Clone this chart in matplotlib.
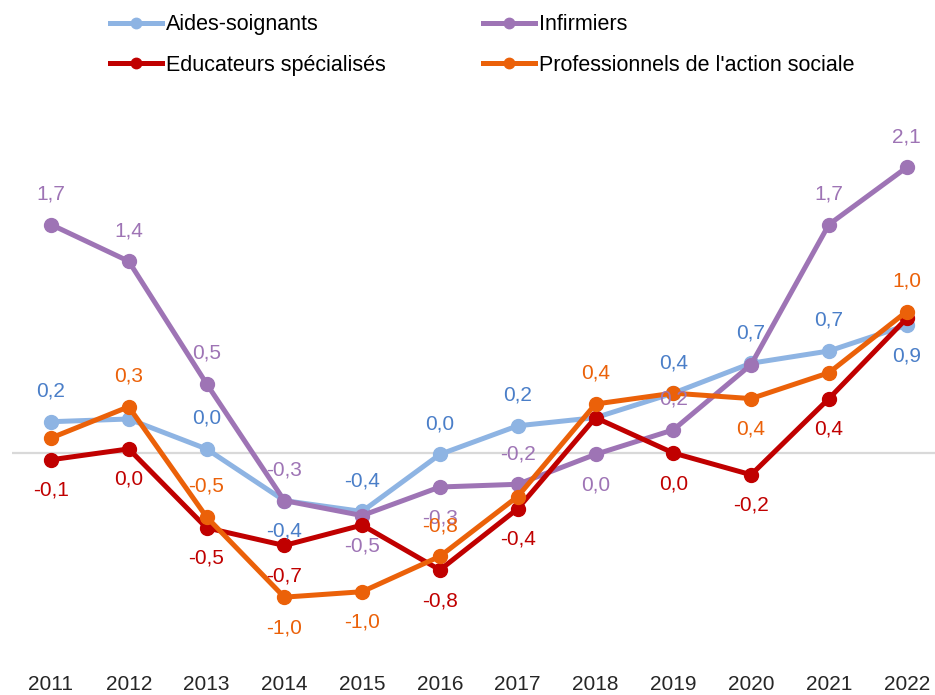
import matplotlib
matplotlib.use('Agg')
import matplotlib.pyplot as plt

years = ['2011', '2012', '2013', '2014', '2015', '2016',
         '2017', '2018', '2019', '2020', '2021', '2022']

aides = [0.23, 0.25, 0.03, -0.35, -0.43, -0.01, 0.20, 0.26, 0.44, 0.66, 0.75, 0.94]
infirmiers = [1.68, 1.41, 0.51, -0.35, -0.46, -0.25, -0.23, -0.01, 0.17, 0.65, 1.68, 2.10]
educateurs = [-0.05, 0.03, -0.55, -0.68, -0.53, -0.86, -0.41, 0.26, 0.00, -0.16, 0.40, 0.99]
pro_social = [0.11, 0.34, -0.47, -1.06, -1.02, -0.76, -0.32, 0.36, 0.44, 0.40, 0.59, 1.04]

# data labels as printed on the chart (None = no label)
aides_lbl = ['0,2', None, '0,0', '-0,4', '-0,4', '0,0', '0,2', None, '0,4', '0,7', '0,7', '0,9']
infirmiers_lbl = ['1,7', '1,4', '0,5', '-0,3', '-0,5', '-0,3', '-0,2', '0,0', '0,2', None, '1,7', '2,1']
educateurs_lbl = ['-0,1', '0,0', '-0,5', '-0,7', None, '-0,8', '-0,4', None, '0,0', '-0,2', '0,4', None]
pro_social_lbl = [None, '0,3', '-0,5', '-1,0', '-1,0', '-0,8', None, '0,4', None, '0,4', None, '1,0']

# label side: 1 above, -1 below
aides_side = [1, 0, 1, -1, 1, 1, 1, 0, 1, 1, 1, -1]
infirmiers_side = [1, 1, 1, 1, -1, -1, 1, -1, 1, 0, 1, 1]
educateurs_side = [-1] * 12
pro_social_side = [0, 1, 1, -1, -1, 1, 0, 1, 0, -1, 0, 1]

plt.rcParams['font.family'] = ['Liberation Sans', 'DejaVu Sans']

fig = plt.figure(figsize=(9.35, 6.95), dpi=100)
W, H = 935, 695
ax = fig.add_axes([12 / W, 1 - 660 / H, 923 / W, 560 / H])

x = list(range(len(years)))
ax.axhline(0, color='#d9d9d9', lw=1.6, zorder=1)

series = [
    ('Aides-soignants', aides, aides_lbl, aides_side, '#8eb4e3', '#4a7ec8'),
    ('Infirmiers', infirmiers, infirmiers_lbl, infirmiers_side, '#9e74b5', '#9e74b5'),
    ('Educateurs spécialisés', educateurs, educateurs_lbl, educateurs_side, '#c00000', '#c00000'),
    ("Professionnels de l'action sociale", pro_social, pro_social_lbl, pro_social_side, '#eb6109', '#eb6109'),
]

handles = []
for i, (name, vals, lbls, sides, col, tcol) in enumerate(series):
    h, = ax.plot(x, vals, color=col, lw=3.6, marker='o', ms=10, label=name, zorder=3 + i)
    handles.append(h)
    for xi, v, t, s in zip(x, vals, lbls, sides):
        if t is None:
            continue
        ax.annotate(t, (xi, v), xytext=(0, 22 * s), textcoords='offset points',
                    ha='center', va='center', fontsize=15, color=tcol, zorder=10)

ax.set_xlim(-0.5, -0.5 + 923 / 77.8)
ax.set_ylim(-(660 - 453) / 136, (453 - 100) / 136)
ax.set_xticks(x)
ax.set_xticklabels(years, fontsize=15, color='#262626')
ax.tick_params(axis='x', length=0, pad=11)
ax.set_yticks([])
for sp in ax.spines.values():
    sp.set_visible(False)

order = [0, 2, 1, 3]
fig.legend([handles[k] for k in order], [series[k][0] for k in order],
           loc='upper left', bbox_to_anchor=(91 / W, 1 + 5 / H), ncol=2,
           frameon=False, fontsize=15.5, handlelength=2.4, handletextpad=0.2,
           columnspacing=4.5, labelspacing=0.9, markerscale=0.75)

fig.savefig('out.png', dpi=100)
